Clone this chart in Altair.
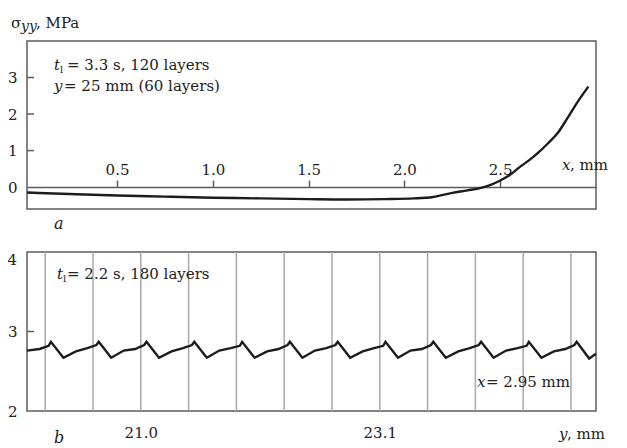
import altair as alt
import pandas as pd

FONT = "DejaVu Serif"
INK = "#222222"
FRAME = "#5c5c5c"
GRID = "#a8a8a8"
LINE = "#1c1c1c"

# ---------------- panel a: sigma_yy along x (y = 25 mm) ----------------
a_x = [0.03, 0.25, 0.5, 0.75, 1.0, 1.25, 1.5, 1.7, 1.9, 2.05, 2.15, 2.25,
       2.33, 2.4, 2.45, 2.5, 2.55, 2.6, 2.65, 2.7, 2.75, 2.8, 2.85, 2.9, 2.96]
a_sigma = [-0.15, -0.19, -0.23, -0.26, -0.29, -0.31, -0.33, -0.34, -0.33, -0.31,
           -0.27, -0.16, -0.09, -0.02, 0.06, 0.18, 0.33, 0.54, 0.73, 0.95, 1.2,
           1.48, 1.88, 2.3, 2.75]
a_xticks = [0.5, 1.0, 1.5, 2.0, 2.5]
a_yticks = [0, 1, 2, 3]

# ---------------- panel b: sigma_yy along y (x = 2.95 mm) ----------------
b_y = [20.00, 20.11,
       20.19, 20.21, 20.32, 20.43, 20.53,
       20.61, 20.63, 20.74, 20.85, 20.95,
       21.03, 21.05, 21.16, 21.27, 21.37,
       21.45, 21.47, 21.58, 21.69, 21.79,
       21.87, 21.89, 22.00, 22.11, 22.21,
       22.29, 22.31, 22.42, 22.53, 22.63,
       22.71, 22.73, 22.84, 22.95, 23.05,
       23.13, 23.15, 23.26, 23.37, 23.47,
       23.55, 23.57, 23.68, 23.79, 23.89,
       23.97, 23.99, 24.10, 24.21, 24.31,
       24.39, 24.41, 24.52, 24.63, 24.73,
       24.81, 24.83, 24.94, 25.00]
b_sigma = [2.76, 2.78,
           2.82, 2.87, 2.67, 2.75, 2.79,
           2.83, 2.87, 2.67, 2.76, 2.78,
           2.83, 2.87, 2.67, 2.75, 2.79,
           2.83, 2.87, 2.67, 2.76, 2.79,
           2.82, 2.87, 2.67, 2.75, 2.78,
           2.83, 2.87, 2.67, 2.76, 2.79,
           2.83, 2.87, 2.67, 2.75, 2.79,
           2.82, 2.87, 2.67, 2.76, 2.78,
           2.83, 2.87, 2.67, 2.75, 2.79,
           2.83, 2.87, 2.67, 2.76, 2.79,
           2.82, 2.87, 2.67, 2.75, 2.78,
           2.83, 2.87, 2.66, 2.72]
b_layers = [20.16, 20.58, 21.0, 21.42, 21.84, 22.26, 22.68, 23.1, 23.52,
            23.94, 24.36, 24.78]
b_xticks = [21.0, 23.1]
b_yticks = [2, 3]
b_ytop = [4]

W = 569
HA = 168
HB = 159


def note(text, x, y, size=15, style="normal", align="left"):
    return alt.Chart(alt.Data(values=[{"k": 0}])).mark_text(
        font=FONT, fontSize=size, fontStyle=style, align=align,
        baseline="alphabetic", color=INK
    ).encode(x=alt.value(x), y=alt.value(y), text=alt.value(text))


# ---------------- panel a ----------------
dfa = pd.DataFrame({"x": a_x, "s": a_sigma})
xa = alt.X("x:Q", title=None,
           scale=alt.Scale(domain=[0.03, 3.0], nice=False, zero=False),
           axis=alt.Axis(orient="top", offset=-146, values=a_xticks, format=".1f",
                         tickSize=7, tickWidth=1.5, tickColor=FRAME,
                         domain=True, domainColor=FRAME, domainWidth=1.5,
                         labelPadding=6, grid=False, labelBaseline="alphabetic",
                         labelOverlap=False))
ya = alt.Y("s:Q", title=None,
           scale=alt.Scale(domain=[-0.6, 4.0], nice=False, zero=False),
           axis=alt.Axis(values=a_yticks, format="d", ticks=False, tickSize=0,
                         domain=False, grid=False, labelPadding=10,
                         labelOverlap=False, minExtent=20, maxExtent=20))

curve_a = alt.Chart(dfa).mark_line(color=LINE, strokeWidth=2.4,
                                   interpolate="monotone").encode(x=xa, y=ya)
ticks_a = alt.Chart(pd.DataFrame({"s": a_yticks[1:]})).mark_rule(
    color=FRAME, strokeWidth=1.5).encode(y="s:Q", x=alt.value(0), x2=alt.value(7))

panel_a = alt.layer(
    curve_a, ticks_a,
    note("σ", -16, -13, 15),
    note("yy", -6, -10, 14, "italic"),
    note(", MPa", 9, -13, 15),
    note("t", 27, 29, 15, "italic"),
    note("l", 33, 32, 10),
    note("= 3.3 s, 120 layers", 40, 29, 15),
    note("y", 27, 50, 15, "italic"),
    note("= 25 mm (60 layers)", 37, 50, 15),
    note("x", 535, 129, 15, "italic"),
    note(", mm", 543, 129, 15),
    note("a", 27, 188, 16, "italic"),
).properties(width=W, height=HA)

# ---------------- panel b ----------------
dfb = pd.DataFrame({"pos": b_y, "s": b_sigma})
xb = alt.X("pos:Q", title=None,
           scale=alt.Scale(domain=[20.0, 25.0], nice=False, zero=False),
           axis=alt.Axis(values=b_xticks, format=".1f", ticks=False, tickSize=0,
                         domain=False, grid=False, labelPadding=14,
                         labelOverlap=False))
yb = alt.Y("s:Q", title=None,
           scale=alt.Scale(domain=[2, 4], nice=False, zero=False),
           axis=alt.Axis(values=b_yticks, format="d", ticks=False, tickSize=0,
                         domain=False, grid=False, labelPadding=10,
                         labelOverlap=False, minExtent=20, maxExtent=20))

grid_b = alt.Chart(pd.DataFrame({"pos": b_layers})).mark_rule(
    color=GRID, strokeWidth=1.5).encode(x="pos:Q")
curve_b = alt.Chart(dfb).mark_line(color=LINE, strokeWidth=2.4).encode(x=xb, y=yb)
ticks_b = alt.Chart(pd.DataFrame({"s": [3]})).mark_rule(
    color=FRAME, strokeWidth=1.5).encode(y="s:Q", x=alt.value(0), x2=alt.value(7))
top_label_b = alt.Chart(pd.DataFrame({"s": b_ytop})).mark_text(
    font=FONT, fontSize=15, color=INK, align="right", baseline="top", dy=1
).encode(y="s:Q", x=alt.value(-10), text=alt.Text("s:Q", format="d"))

panel_b = alt.layer(
    grid_b, curve_b, ticks_b, top_label_b,
    note("t", 30, 27, 15, "italic"),
    note("l", 36, 30, 10),
    note("= 2.2 s, 180 layers", 40, 27, 15),
    note("x", 450, 135, 15, "italic"),
    note("= 2.95 mm", 459, 135, 15),
    note("y", 532, 187, 15, "italic"),
    note(", mm", 540, 187, 15),
    note("b", 27, 191, 16, "italic"),
).properties(width=W, height=HB)

chart = alt.vconcat(panel_a, panel_b, spacing=17).properties(
    padding={"left": -2, "top": 7, "right": 0, "bottom": 0}
).configure_view(
    stroke=FRAME, strokeWidth=1.5
).configure_axis(
    labelFont=FONT, labelFontSize=15, labelColor=INK
)

chart.save("out.html", embed_options={"renderer": "svg", "actions": False})
